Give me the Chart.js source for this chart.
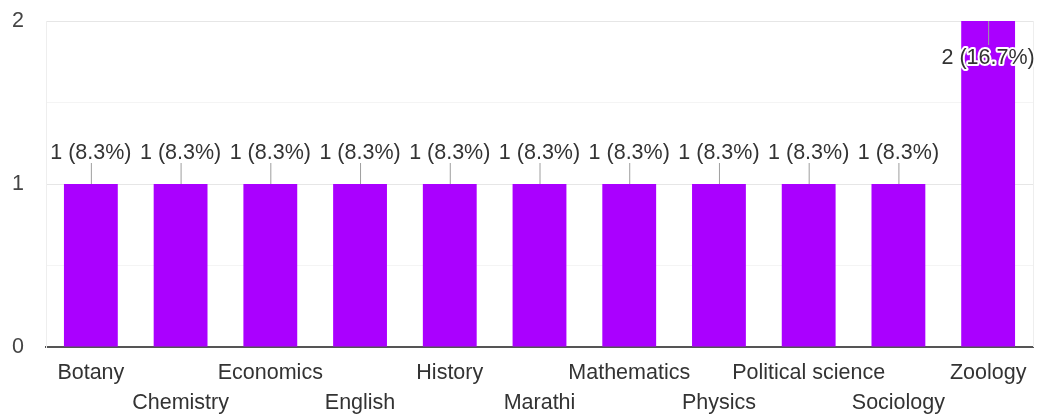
<!DOCTYPE html>
<html lang="en">
<head>
<meta charset="UTF-8" />
<title>Subjects</title>
<script src="https://cdn.jsdelivr.net/npm/chart.js"></script>
<style>
  html, body { margin: 0; padding: 0; background: #fff; }
  #wrap { width: 1042px; height: 416px; }
</style>
</head>
<body>
<div id="wrap"><canvas id="subjChart"></canvas></div>
<script>
const subjects = ['Botany', 'Chemistry', 'Economics', 'English', 'History', 'Marathi',
  'Mathematics', 'Physics', 'Political science', 'Sociology', 'Zoology'];
const counts = [1, 1, 1, 1, 1, 1, 1, 1, 1, 1, 2];
const yTicks = [0, 1, 2];

const total = counts.reduce((a, b) => a + b, 0);
const FONT = '"Liberation Sans", Arial, sans-serif';

// staggered labels: every second one goes on a second row
const xLabels = subjects.map((s, i) => i % 2 ? ['', s] : s);

const dataLabels = {
  id: 'dataLabels',
  afterDatasetsDraw(chart) {
    const ctx = chart.ctx;
    const area = chart.chartArea;
    const meta = chart.getDatasetMeta(0);
    ctx.save();
    ctx.font = '21.5px ' + FONT;
    ctx.textAlign = 'center';
    ctx.textBaseline = 'alphabetic';
    meta.data.forEach((bar, i) => {
      const v = counts[i];
      const text = v + ' (' + (v / total * 100).toFixed(1) + '%)';
      const x = bar.x, top = bar.y;
      const inside = top - area.top < 40;
      ctx.strokeStyle = '#9e9e9e';
      ctx.lineWidth = 1;
      ctx.beginPath();
      if (inside) {
        ctx.moveTo(x + 0.5, top);
        ctx.lineTo(x + 0.5, top + 24);
      } else {
        ctx.moveTo(x + 0.5, top);
        ctx.lineTo(x + 0.5, top - 21);
      }
      ctx.stroke();
      const ty = inside ? top + 43 : top - 25;
      if (inside) {
        ctx.strokeStyle = '#fff';
        ctx.lineWidth = 4;
        ctx.lineJoin = 'round';
        ctx.strokeText(text, x, ty);
      }
      ctx.fillStyle = '#333';
      ctx.fillText(text, x, ty);
    });
    ctx.restore();
  }
};

const rightEdge = {
  id: 'rightEdge',
  beforeDatasetsDraw(chart) {
    const a = chart.chartArea;
    const ctx = chart.ctx;
    ctx.save();
    ctx.strokeStyle = '#eeeeee';
    ctx.lineWidth = 1;
    ctx.beginPath();
    ctx.moveTo(a.right + 0.5, a.top);
    ctx.lineTo(a.right + 0.5, a.bottom);
    ctx.stroke();
    ctx.restore();
  }
};

new Chart(document.getElementById('subjChart'), {
  type: 'bar',
  data: {
    labels: xLabels,
    datasets: [{
      data: counts,
      backgroundColor: '#aa00ff',
      barPercentage: 0.6,
      categoryPercentage: 1
    }]
  },
  options: {
    responsive: true,
    maintainAspectRatio: false,
    animation: false,
    layout: { padding: { top: 21, right: 9, left: 0, bottom: 0 } },
    plugins: { legend: { display: false }, tooltip: { enabled: false } },
    scales: {
      x: {
        grid: { display: false },
        border: { color: '#555', width: 2 },
        ticks: {
          autoSkip: false,
          maxRotation: 0,
          padding: 3,
          color: '#333',
          font: { family: FONT, size: 21.5, lineHeight: 1.4 }
        },
        afterFit(scale) { scale.height = 69; scale.paddingLeft = 0; scale.paddingRight = 0; }
      },
      y: {
        min: 0,
        max: 2,
        afterBuildTicks(scale) {
          scale.ticks = [0, 0.5, 1, 1.5, 2].map(v => ({ value: v }));
        },
        grid: {
          drawTicks: false,
          color: c => Number.isInteger(c.tick.value) ? '#e6e6e6' : '#f4f4f4'
        },
        border: { color: '#eeeeee' },
        ticks: {
          padding: 22,
          color: '#444',
          font: { family: FONT, size: 21.5 },
          callback: v => yTicks.includes(v) ? String(v) : ''
        },
        afterFit(scale) { scale.width = 46; scale.paddingTop = 0; scale.paddingBottom = 0; }
      }
    }
  },
  plugins: [rightEdge, dataLabels]
});
</script>
</body>
</html>
